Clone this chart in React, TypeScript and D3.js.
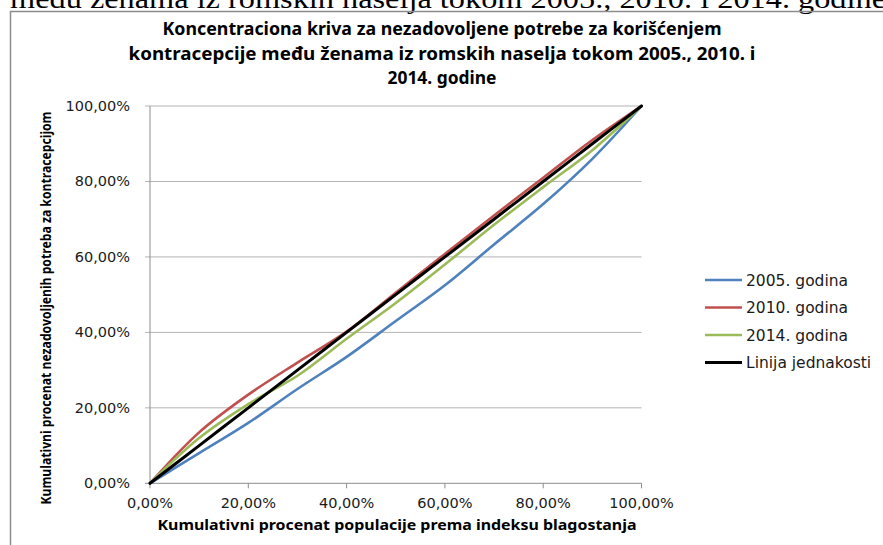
import React from "react";
import { scaleLinear, line, curveCatmullRom } from "d3";

// Kumulativni procenat populacije (x) - deciles
const xValues = [0, 10, 20, 30, 40, 50, 60, 70, 80, 90, 100];

// Kumulativni procenat nezadovoljenih potreba (y)
const y2005 = [0, 8, 16, 25, 33.5, 43, 52.5, 63.3, 74, 86, 100];
const y2010 = [0, 13.5, 23.5, 32, 40.2, 50.5, 60.8, 71, 81, 91, 100];
const y2014 = [0, 12, 21, 28.5, 38.3, 47.8, 58, 68.5, 78.5, 88.3, 100];
const yEquality = [0, 10, 20, 30, 40, 50, 60, 70, 80, 90, 100];

const seriesNames = ["2005. godina", "2010. godina", "2014. godina", "Linija jednakosti"];
const seriesColors = ["#4F81BD", "#C0504D", "#9BBB59", "#000000"];
const seriesValues = [y2005, y2010, y2014, yEquality];

const tickValues = [0, 20, 40, 60, 80, 100];
const tickLabels = ["0,00%", "20,00%", "40,00%", "60,00%", "80,00%", "100,00%"];

const titleLines = [
  "Koncentraciona kriva za nezadovoljene potrebe za korišćenjem",
  "kontracepcije među ženama iz romskih naselja tokom 2005., 2010. i",
  "2014. godine",
];
const titleWidths = [559, 627, 109];

const topText = "među ženama iz romskih naselja tokom 2005., 2010. i 2014. godine";
const xTitle = "Kumulativni procenat populacije prema indeksu blagostanja";
const yTitle = "Kumulativni procenat nezadovoljenih potreba za kontracepcijom";

const W = 883;
const H = 545;

const App: React.FC = () => {
  const x = scaleLinear().domain([0, 100]).range([150, 641.5]);
  const y = scaleLinear().domain([0, 100]).range([483.3, 106]);

  const path = line<number>()
    .x((_, i) => x(xValues[i]))
    .y((d) => y(d))
    .curve(curveCatmullRom.alpha(0.5));

  const sans = "'DejaVu Sans', Verdana, sans-serif";
  const bold = "'Noto Sans', 'Open Sans', sans-serif";

  return (
    <div style={{ position: "absolute", left: 0, top: 0 }}>
      <svg width={W} height={H} viewBox={`0 0 ${W} ${H}`} style={{ display: "block", background: "#fff" }}>
        {/* tekst iznad grafikona (odsečen u originalu) */}
        <text
          x={10}
          y={8}
          fontFamily="'Liberation Serif', 'Times New Roman', serif"
          fontSize={28}
          textLength={876}
          lengthAdjust="spacingAndGlyphs"
          fill="#000"
        >
          {topText}
        </text>

        {/* okvir */}
        <rect x={10.5} y={11.5} width={W + 20} height={H + 20} fill="none" stroke="#8c8c8c" strokeWidth={1.5} />

        {/* naslov */}
        {titleLines.map((t, i) => (
          <text
            key={i}
            x={442}
            y={35 + i * 24.5}
            textAnchor="middle"
            fontFamily={bold}
            fontWeight="bold"
            fontSize={17.5}
            textLength={titleWidths[i]}
            lengthAdjust="spacingAndGlyphs"
            fill="#000"
          >
            {t}
          </text>
        ))}

        {/* mreža */}
        {tickValues.map((v, i) => (
          <g key={`g${i}`}>
            <line
              x1={x(0) - 5}
              x2={x(100)}
              y1={y(v)}
              y2={y(v)}
              stroke={v === 0 ? "#8c8c8c" : "#b3b3b3"}
              strokeWidth={1}
            />
            <text
              x={130}
              y={y(v) + 5}
              textAnchor="end"
              fontFamily={sans}
              fontSize={14.5}
              fill="#1a1a1a"
            >
              {tickLabels[i]}
            </text>
          </g>
        ))}

        {/* osa y */}
        <line x1={x(0)} x2={x(0)} y1={y(100)} y2={y(0)} stroke="#8c8c8c" strokeWidth={1} />

        {/* osa x */}
        {tickValues.map((v, i) => (
          <g key={`x${i}`}>
            <line x1={x(v)} x2={x(v)} y1={y(0)} y2={y(0) + 5} stroke="#8c8c8c" strokeWidth={1} />
            <text
              x={x(v)}
              y={508}
              textAnchor="middle"
              fontFamily={sans}
              fontSize={14.5}
              fill="#1a1a1a"
            >
              {tickLabels[i]}
            </text>
          </g>
        ))}

        {/* krive */}
        {seriesValues.map((vals, i) => (
          <path
            key={`s${i}`}
            d={path(vals) ?? ""}
            fill="none"
            stroke={seriesColors[i]}
            strokeWidth={i === 3 ? 3 : 2.6}
            strokeLinecap="round"
          />
        ))}

        {/* naslovi osa */}
        <text
          x={397}
          y={530}
          textAnchor="middle"
          fontFamily={bold}
          fontWeight="bold"
          fontSize={15}
          textLength={479}
          lengthAdjust="spacingAndGlyphs"
          fill="#000"
        >
          {xTitle}
        </text>
        <text
          transform={`translate(51, 308) rotate(-90)`}
          textAnchor="middle"
          fontFamily={bold}
          fontWeight="bold"
          fontSize={15}
          textLength={393}
          lengthAdjust="spacingAndGlyphs"
          fill="#000"
        >
          {yTitle}
        </text>

        {/* legenda */}
        {seriesNames.map((name, i) => (
          <g key={`l${i}`} transform={`translate(705, ${280 + i * 27.5})`}>
            <line x1={0} x2={37} y1={0} y2={0} stroke={seriesColors[i]} strokeWidth={i === 3 ? 3 : 2.6} />
            <text x={41} y={5.5} fontFamily={sans} fontSize={15.5} fill="#1a1a1a">
              {name}
            </text>
          </g>
        ))}
      </svg>
    </div>
  );
};

export default App;
